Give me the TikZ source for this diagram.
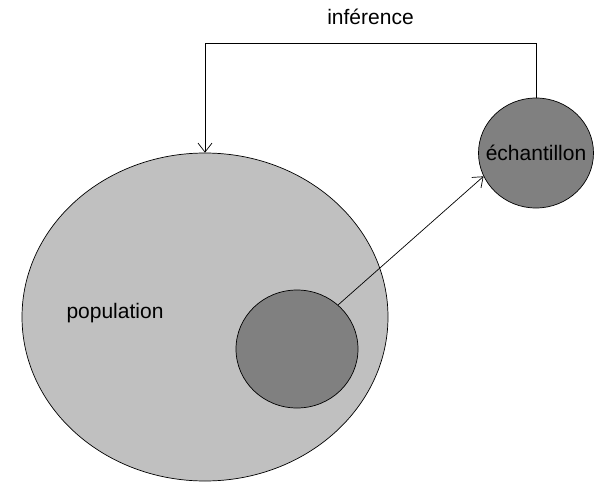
\documentclass[tikz,border=0pt]{standalone}
\usepackage{fontspec}
\setmainfont{Liberation Sans}
\usetikzlibrary{shapes.geometric,arrows.meta}
\definecolor{popfill}{RGB}{192,192,192}
\definecolor{samplefill}{RGB}{128,128,128}
\begin{document}
\begin{tikzpicture}[x=1pt,y=-1pt,
  set/.style={ellipse,draw=black,line width=0.7pt,inner sep=0pt},
  lbl/.style={font=\fontsize{21}{24}\selectfont,text=black,inner sep=0pt},
  link/.style={line width=0.7pt,-{Straight Barb[length=9pt,width=14pt,line width=0.7pt]}}]
  \useasboundingbox (0,0) rectangle (595,482);
  % population and the subset drawn from it
  \node[set,fill=popfill,minimum width=366pt,minimum height=328pt] (pop) at (205,317) {};
  \node[lbl] (poplbl) at (115,313) {population};
  \node[set,fill=samplefill,minimum width=122pt,minimum height=118pt] (sub) at (297,349) {};
  % the sample
  \node[set,fill=samplefill,minimum width=115pt,minimum height=110pt] (ech) at (536,153) {};
  \node[lbl] (echlbl) at (ech.center) {échantillon};
  % sampling arrow
  \draw[link] (sub.47) -- (ech.204);
  % inference back to the population
  \draw[link] (ech.north) -- ++(0,-54) coordinate (tr)
    -- (tr -| pop.north) node[midway,above=19pt,lbl] (inf) {inférence}
    -- (pop.north);
\end{tikzpicture}
\end{document}
